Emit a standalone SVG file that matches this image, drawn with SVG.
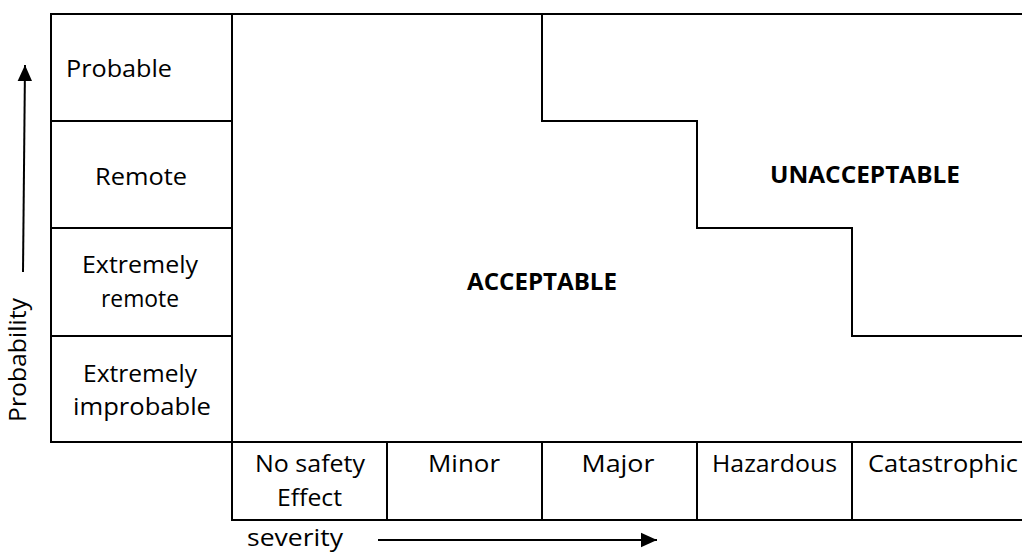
<svg xmlns="http://www.w3.org/2000/svg" width="1022" height="552" viewBox="0 0 1022 552">
<style>
.ln{stroke:#000;stroke-width:2;fill:none;stroke-linecap:square}
.t{font-family:"Open Sans","Liberation Sans",sans-serif;font-size:23px;fill:#000}
.c{text-anchor:middle}
.b{font-weight:bold;font-size:24px}
</style>
<defs>
<marker id="ah" viewBox="0 0 10 10" refX="10" refY="5" markerWidth="8" markerHeight="8" markerUnits="strokeWidth" orient="auto">
<path d="M0,0.5 L10,5 L0,9.5 Z" fill="#000"/>
</marker>
</defs>
<rect width="1022" height="552" fill="#fff"/>
<g id="grid" class="ln">
<path d="M51,14 H1022"/>
<path d="M51,14 V442"/>
<path d="M232,14 V520"/>
<path d="M51,121 H232 M51,228 H232 M51,336 H232"/>
<path d="M51,442 H1022"/>
<path d="M232,520 H1022"/>
<path d="M387,442 V520 M542,442 V520 M697,442 V520 M852,442 V520"/>
</g>
<g id="boundary" class="ln">
<path d="M542,14 V121 H697 V228 H852 V336 H1022" stroke-linecap="butt"/>
</g>
<g id="probability-levels" class="t">
<g id="p-probable"><text x="66" y="77" textLength="106" lengthAdjust="spacingAndGlyphs">Probable</text></g>
<g id="p-remote"><text class="c" x="141" y="185" textLength="92" lengthAdjust="spacingAndGlyphs">Remote</text></g>
<g id="p-extremely-remote"><text class="c" x="140" y="273" textLength="116" lengthAdjust="spacingAndGlyphs">Extremely</text><text class="c" x="140" y="307" textLength="78" lengthAdjust="spacingAndGlyphs">remote</text></g>
<g id="p-extremely-improbable"><text class="c" x="140" y="382" textLength="114" lengthAdjust="spacingAndGlyphs">Extremely</text><text class="c" x="142" y="415" textLength="138" lengthAdjust="spacingAndGlyphs">improbable</text></g>
</g>
<g id="severity-levels" class="t">
<g id="s-none"><text class="c" x="310" y="472" textLength="110" lengthAdjust="spacingAndGlyphs">No safety</text><text class="c" x="309.5" y="506" textLength="65" lengthAdjust="spacingAndGlyphs">Effect</text></g>
<g id="s-minor"><text class="c" x="464" y="472" textLength="72" lengthAdjust="spacingAndGlyphs">Minor</text></g>
<g id="s-major"><text class="c" x="618" y="472" textLength="73" lengthAdjust="spacingAndGlyphs">Major</text></g>
<g id="s-hazardous"><text class="c" x="774.5" y="472" textLength="125" lengthAdjust="spacingAndGlyphs">Hazardous</text></g>
<g id="s-catastrophic"><text class="c" x="943" y="472" textLength="150" lengthAdjust="spacingAndGlyphs">Catastrophic</text></g>
</g>
<g id="regions" class="t">
<g id="acceptable"><text class="c b" x="542" y="290" textLength="150" lengthAdjust="spacingAndGlyphs">ACCEPTABLE</text></g>
<g id="unacceptable"><text class="c b" x="865" y="183" textLength="190" lengthAdjust="spacingAndGlyphs">UNACCEPTABLE</text></g>
</g>
<g id="axes">
<g id="connectors" class="ln">
<path d="M23,272 L25,65" marker-end="url(#ah)" stroke-linecap="butt"/>
<path d="M378,540 H657" marker-end="url(#ah)" stroke-linecap="butt"/>
</g>
<g id="axis-labels" class="t">
<text class="c" x="26" y="360" transform="rotate(-90 26 360)" textLength="124" lengthAdjust="spacingAndGlyphs">Probability</text>
<text x="247" y="546" textLength="96" lengthAdjust="spacingAndGlyphs">severity</text>
</g>
</g>
</svg>
